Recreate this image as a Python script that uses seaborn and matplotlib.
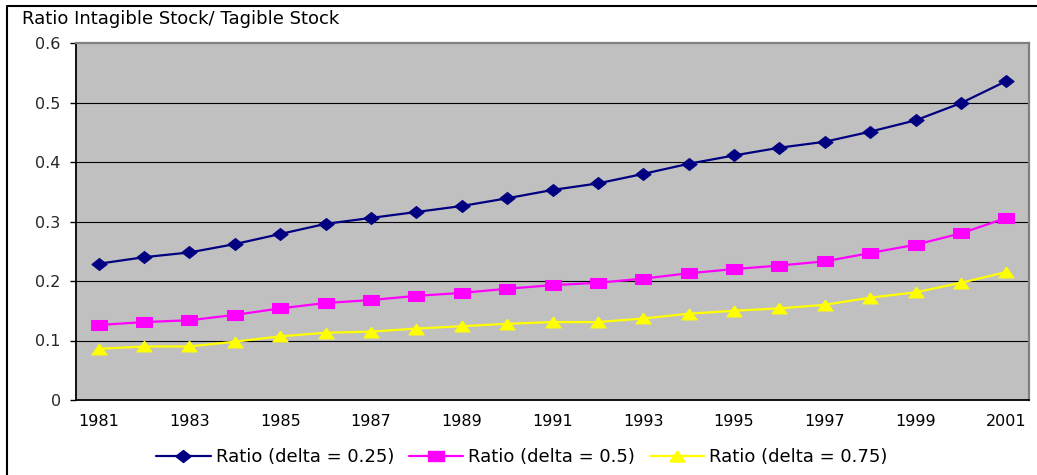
import matplotlib
matplotlib.use("Agg")
import matplotlib.pyplot as plt
from matplotlib.lines import Line2D
import numpy as np
import pandas as pd
import seaborn as sns

# Ratio of intangible to tangible stock, by depreciation rate
years = list(range(1981, 2002))
ratio_delta_025 = [0.229, 0.240, 0.248, 0.262, 0.279, 0.296, 0.306, 0.316, 0.326, 0.339,
                   0.353, 0.364, 0.380, 0.397, 0.411, 0.424, 0.434, 0.451, 0.470, 0.499, 0.536]
ratio_delta_05 = [0.126, 0.131, 0.134, 0.143, 0.154, 0.163, 0.168, 0.175, 0.180, 0.187,
                  0.193, 0.197, 0.204, 0.213, 0.220, 0.226, 0.233, 0.247, 0.261, 0.280, 0.306]
ratio_delta_075 = [0.086, 0.090, 0.090, 0.098, 0.107, 0.113, 0.115, 0.120, 0.124, 0.128,
                   0.131, 0.131, 0.137, 0.145, 0.150, 0.154, 0.160, 0.172, 0.181, 0.197, 0.215]
series_names = ["Ratio (delta = 0.25)", "Ratio (delta = 0.5)", "Ratio (delta = 0.75)"]
title_text = "Ratio Intagible Stock/ Tagible Stock"
y_ticks = [0, 0.1, 0.2, 0.3, 0.4, 0.5, 0.6]
y_tick_labels = ["0", "0.1", "0.2", "0.3", "0.4", "0.5", "0.6"]

frames = []
for name, vals in zip(series_names, [ratio_delta_025, ratio_delta_05, ratio_delta_075]):
    frames.append(pd.DataFrame({"year": years, "pos": np.arange(len(years)),
                                "ratio": vals, "series": name}))
df = pd.concat(frames, ignore_index=True)

sns.set_style("white")
plt.rcParams["font.family"] = ["DejaVu Sans"]

# Slightly widened markers, like the spreadsheet-style chart
wide_diamond = [(-1.27, 0), (0, 1), (1.27, 0), (0, -1), (-1.27, 0)]
wide_square = [(-1.4, -1), (-1.4, 1), (1.4, 1), (1.4, -1), (-1.4, -1)]
wide_triangle = [(0, 1), (-1.4, -1), (1.4, -1), (0, 1)]
styles = {
    series_names[0]: dict(color="#000080", marker=wide_diamond, ms=11),
    series_names[1]: dict(color="#FF00FF", marker=wide_square, ms=11),
    series_names[2]: dict(color="#FFFF00", marker=wide_triangle, ms=11),
}

fig = plt.figure(figsize=(10.37, 4.75), dpi=100)
ax = fig.add_axes([76 / 1037, 75 / 475, 953 / 1037, 357 / 475])
ax.set_facecolor("#C0C0C0")

handles = []
for name in series_names:
    st = styles[name]
    sub = df[df["series"] == name]
    sns.lineplot(data=sub, x="pos", y="ratio", ax=ax, color=st["color"],
                 marker=st["marker"], markersize=st["ms"], markeredgecolor=st["color"],
                 markerfacecolor=st["color"], linewidth=1.6, legend=False,
                 errorbar=None)
    handles.append(Line2D([], [], color=st["color"], marker=st["marker"],
                          markersize=st["ms"], markeredgecolor=st["color"],
                          markerfacecolor=st["color"], linewidth=1.6))

n = len(years)
ax.set_xlim(-0.5, n - 0.5)
ax.set_ylim(0, 0.6)
ax.set_xlabel("")
ax.set_ylabel("")

# Horizontal gridlines
ax.set_yticks(y_ticks)
ax.set_yticklabels(y_tick_labels)
for v in y_ticks[1:-1]:
    ax.axhline(v, color="black", lw=0.8, zorder=0.5)

# Category labels every other year, tick marks between categories
ax.set_xticks(np.arange(0, n, 2))
ax.set_xticklabels([str(y) for y in years[::2]])
ax.set_xticks(np.arange(-0.5, n, 1), minor=True)
ax.tick_params(axis="x", which="major", length=0, pad=10, labelsize=11.5, colors="black")
ax.tick_params(axis="x", which="minor", length=4, width=1, color="black", direction="out")
ax.tick_params(axis="y", which="major", length=4.5, width=1, pad=6.5, labelsize=11.5,
               direction="out", color="black")
ax.tick_params(axis="y", left=True)

for side in ["left", "bottom"]:
    ax.spines[side].set_color("black")
    ax.spines[side].set_linewidth(1.3)
for side in ["top", "right"]:
    ax.spines[side].set_visible(True)
    ax.spines[side].set_color("#808080")
    ax.spines[side].set_linewidth(1.6)

fig.text(22 / 1037, 1 - 19 / 475, title_text, ha="left", va="center", fontsize=13,
         color="black")

fig.legend(handles, series_names, loc="center", bbox_to_anchor=(522 / 1037, 18 / 475),
           ncol=3, frameon=False, fontsize=13, handlelength=3.0, handletextpad=0.3,
           columnspacing=0.8, labelcolor="black")

# Chart border
fig.add_artist(Line2D([7 / 1037, 7 / 1037, 1.0], [0.0, 1 - 6 / 475, 1 - 6 / 475],
                      transform=fig.transFigure, color="black", lw=1.5))

fig.savefig("out.png", dpi=100, facecolor="white")
